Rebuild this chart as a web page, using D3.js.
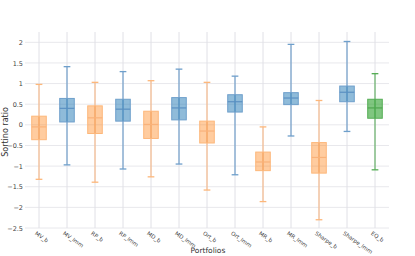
<!DOCTYPE html>
<html>
<head>
<meta charset="utf-8">
<script src="https://cdn.jsdelivr.net/npm/d3@7"></script>
<style>
body { margin: 0; background: #fff; }
text { font-family: "DejaVu Sans", sans-serif; }
</style>
</head>
<body>
<div id="chart"></div>
<script>
// portfolios and box stats (Sortino ratio)
var portfolios = ["MV_b", "MV_lmm", "RP_b", "RP_lmm", "MD_b", "MD_lmm", "Ort_b", "Ort_lmm", "MR_b", "MR_lmm", "Sharpe_b", "Sharpe_lmm", "EQ_b"];
var groups = ["b", "lmm", "b", "lmm", "b", "lmm", "b", "lmm", "b", "lmm", "b", "lmm", "eq"];
var lowerWhisker = [-1.32, -0.97, -1.39, -1.07, -1.26, -0.95, -1.58, -1.21, -1.86, -0.27, -2.30, -0.16, -1.09];
var q1 = [-0.36, 0.07, -0.21, 0.09, -0.33, 0.12, -0.44, 0.31, -1.11, 0.49, -1.17, 0.56, 0.16];
var median = [-0.05, 0.40, 0.17, 0.38, 0.01, 0.41, -0.15, 0.56, -0.90, 0.65, -0.79, 0.79, 0.41];
var q3 = [0.21, 0.64, 0.46, 0.62, 0.33, 0.66, 0.09, 0.73, -0.66, 0.78, -0.43, 0.94, 0.62];
var upperWhisker = [0.98, 1.41, 1.03, 1.29, 1.07, 1.35, 1.03, 1.18, -0.05, 1.95, 0.59, 2.02, 1.24];
var yTicks = [-2.5, -2, -1.5, -1, -0.5, 0, 0.5, 1, 1.5, 2];

var width = 415, height = 256;
var margins = { top: 32, right: 26, bottom: 28, left: 25 };

var svg = d3.select('#chart').append('svg')
    .attr('width', width)
    .attr('height', height);

var colors = {
    b: { fill: 'rgba(255,127,14,0.4)', stroke: '#fdb77a', line: '#f9b27a' },
    lmm: { fill: 'rgba(31,119,180,0.5)', stroke: '#6e9fcb', line: '#5b90c2' },
    eq: { fill: 'rgba(44,160,44,0.6)', stroke: '#55ad55', line: '#4ea64e' }
};

var xScale = d3.scaleBand()
    .domain(portfolios)
    .range([margins.left, width - margins.right]);

var yScale = d3.scaleLinear()
    .domain([-2.5, 2.25])
    .range([height - margins.bottom, margins.top]);

// grid
svg.append('g').attr('class', 'yGrid')
    .selectAll('line')
    .data(yTicks)
    .enter().append('line')
    .attr('x1', margins.left)
    .attr('x2', width - margins.right)
    .attr('y1', function (d) { return yScale(d); })
    .attr('y2', function (d) { return yScale(d); })
    .style('stroke', '#e8e8ec')
    .style('stroke-width', 1);

svg.append('g').attr('class', 'xGrid')
    .selectAll('line')
    .data(portfolios)
    .enter().append('line')
    .attr('x1', function (d) { return xScale(d) + xScale.bandwidth() / 2; })
    .attr('x2', function (d) { return xScale(d) + xScale.bandwidth() / 2; })
    .attr('y1', margins.top)
    .attr('y2', yScale(-2.5))
    .style('stroke', '#e0e0e6')
    .style('stroke-width', 1);

// y axis
var yAxis = d3.axisLeft(yScale)
    .tickValues(yTicks)
    .tickSize(0)
    .tickPadding(2)
    .tickFormat(function (d) { return d3.format('')(d).replace('-', '\u2212'); });

var yAxisG = svg.append('g')
    .attr('transform', 'translate(' + margins.left + ',0)')
    .call(yAxis);
yAxisG.select('.domain').remove();
yAxisG.selectAll('text')
    .style('font-size', '6.5px')
    .style('fill', '#444');

// x axis
var xAxis = d3.axisBottom(xScale).tickSize(0).tickPadding(6);
var xAxisG = svg.append('g')
    .attr('transform', 'translate(0,' + yScale(-2.5) + ')')
    .call(xAxis);
xAxisG.select('.domain').remove();
xAxisG.selectAll('text')
    .style('font-size', '5.5px')
    .style('fill', '#444')
    .style('text-anchor', 'start')
    .attr('dy', '0.3em')
    .attr('transform', 'rotate(35)');

// boxes
var boxW = xScale.bandwidth() * 0.52;
var capW = xScale.bandwidth() * 0.24;

var boxes = svg.append('g').attr('class', 'items')
    .selectAll('g')
    .data(portfolios)
    .enter().append('g')
    .attr('transform', function (d) { return 'translate(' + (xScale(d) + xScale.bandwidth() / 2) + ',0)'; });

boxes.append('line')
    .attr('x1', 0).attr('x2', 0)
    .attr('y1', function (d, i) { return yScale(lowerWhisker[i]); })
    .attr('y2', function (d, i) { return yScale(upperWhisker[i]); })
    .attr('stroke', function (d, i) { return colors[groups[i]].line; })
    .attr('stroke-width', 1);

boxes.selectAll('.cap')
    .data(function (d, i) { return [{ v: lowerWhisker[i], g: groups[i] }, { v: upperWhisker[i], g: groups[i] }]; })
    .enter().append('line')
    .attr('class', 'cap')
    .attr('x1', -capW / 2).attr('x2', capW / 2)
    .attr('y1', function (d) { return yScale(d.v); })
    .attr('y2', function (d) { return yScale(d.v); })
    .attr('stroke', function (d) { return colors[d.g].stroke; })
    .attr('stroke-width', 1.3);

boxes.append('rect')
    .attr('x', -boxW / 2)
    .attr('width', boxW)
    .attr('y', function (d, i) { return yScale(q3[i]); })
    .attr('height', function (d, i) { return yScale(q1[i]) - yScale(q3[i]); })
    .attr('fill', function (d, i) { return colors[groups[i]].fill; })
    .attr('stroke', function (d, i) { return colors[groups[i]].stroke; })
    .attr('stroke-width', 1);

boxes.append('line')
    .attr('x1', -boxW / 2).attr('x2', boxW / 2)
    .attr('y1', function (d, i) { return yScale(median[i]); })
    .attr('y2', function (d, i) { return yScale(median[i]); })
    .attr('stroke', function (d, i) { return colors[groups[i]].line; })
    .attr('stroke-width', 1.2);

// axis titles
svg.append('text')
    .attr('transform', 'translate(5,' + ((margins.top + height - margins.bottom) / 2 + 2) + ') rotate(-90)')
    .attr('text-anchor', 'middle')
    .attr('dy', '0.35em')
    .style('font-size', '8px')
    .style('fill', '#333')
    .text('Sortino ratio');

svg.append('text')
    .attr('x', (margins.left + width - margins.right) / 2 + 1)
    .attr('y', 253)
    .attr('text-anchor', 'middle')
    .style('font-size', '7.5px')
    .style('fill', '#333')
    .text('Portfolios');
</script>
</body>
</html>
